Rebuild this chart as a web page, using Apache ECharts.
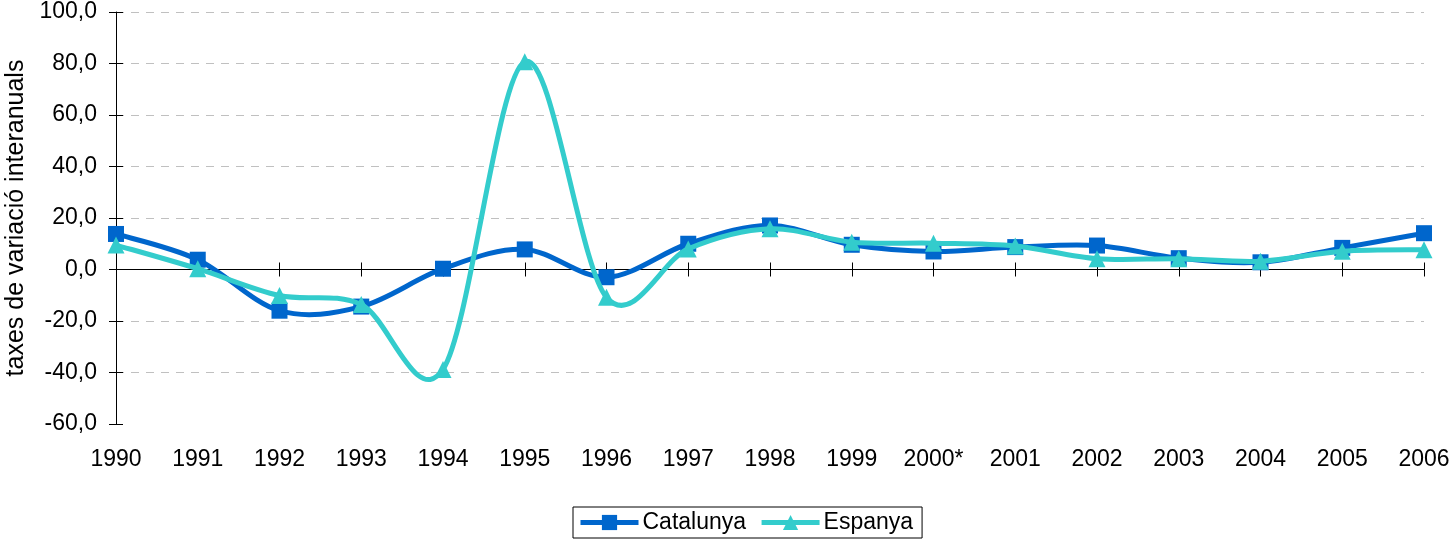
<!DOCTYPE html>
<html>
<head>
<meta charset="utf-8">
<script src="https://cdn.jsdelivr.net/npm/echarts@6/dist/echarts.min.js"></script>
<style>
html,body{margin:0;padding:0;background:#fff;}
#chart{width:1451px;height:545px;}
</style>
</head>
<body>
<div id="chart"></div>
<script>
const categories = ['1990','1991','1992','1993','1994','1995','1996','1997','1998','1999','2000*','2001','2002','2003','2004','2005','2006'];
const catalunya = [13.8, 3.8, -16.0, -14.4, 0.3, 7.8, -3.0, 10.0, 17.1, 9.6, 7.0, 8.7, 9.3, 4.4, 2.8, 8.4, 14.1];
const espanya = [9.5, 0.3, -10.1, -13.6, -38.8, 80.7, -10.8, 8.0, 15.8, 10.6, 10.2, 9.1, 4.2, 4.2, 3.2, 7.1, 7.7];
const yTicks = {min: -60, max: 100, interval: 20};
const yAxisName = 'taxes de variació interanuals';

const FONT = 'Liberation Sans, Arial, sans-serif';
const C_CAT = '#0066CC';
const C_ESP = '#33CCCC';
const chart = echarts.init(document.getElementById('chart'));
const gridColors = ['transparent','#c0c0c0','#c0c0c0','transparent','#c0c0c0','#c0c0c0','#c0c0c0','#c0c0c0','#c0c0c0'];

// Smooth curve (Catmull-Rom style, like spreadsheet smoothing) drawn through the axis scales
function curveRenderer(values, color) {
  return function (params, api) {
    const i = params.dataIndex;
    const n = values.length;
    if (i >= n - 1) return null;
    const pt = k => api.coord([Math.max(0, Math.min(n - 1, k)), values[Math.max(0, Math.min(n - 1, k))]]);
    const p0 = pt(i - 1), p1 = pt(i), p2 = pt(i + 1), p3 = pt(i + 2);
    const t = 1 / 6;
    return {
      type: 'bezierCurve',
      shape: {
        x1: p1[0], y1: p1[1], x2: p2[0], y2: p2[1],
        cpx1: p1[0] + (p2[0] - p0[0]) * t, cpy1: p1[1] + (p2[1] - p0[1]) * t,
        cpx2: p2[0] - (p3[0] - p1[0]) * t, cpy2: p2[1] - (p3[1] - p1[1]) * t
      },
      style: {stroke: color, lineWidth: 5, fill: null, lineCap: 'round', lineJoin: 'round'}
    };
  };
}

chart.setOption({
  animation: false,
  backgroundColor: '#fff',
  grid: {left: 116, right: 27, top: 12, bottom: 121, containLabel: false, outerBoundsMode: 'none'},
  legend: {
    data: [
      {name: 'Catalunya', lineStyle: {color: C_CAT, width: 5, opacity: 1}},
      {name: 'Espanya', lineStyle: {color: C_ESP, width: 5, opacity: 1}}
    ],
    top: 507,
    left: 573,
    itemWidth: 58,
    itemHeight: 19,
    itemGap: 13,
    padding: [4, 9, 4, 5],
    borderColor: '#000',
    borderWidth: 1,
    borderRadius: 0,
    textStyle: {fontFamily: FONT, fontSize: 23, color: '#000', padding: [0, 0, 0, -1]}
  },
  xAxis: [
    {
      type: 'category', data: categories, boundaryGap: false,
      position: 'bottom',
      axisLine: {show: false, onZero: false},
      axisTick: {show: false},
      axisLabel: {fontFamily: FONT, fontSize: 23, color: '#000', margin: 24, interval: 0},
      splitLine: {show: false}
    },
    {
      type: 'category', data: categories, boundaryGap: false,
      position: 'bottom',
      axisLine: {show: true, onZero: true, lineStyle: {color: '#000', width: 1}},
      axisTick: {show: true, inside: false, length: 7, interval: 0, lineStyle: {color: '#000'}},
      axisLabel: {show: false},
      splitLine: {show: false}
    },
    {
      type: 'category', data: categories, boundaryGap: false,
      position: 'bottom',
      axisLine: {show: false, onZero: true},
      axisTick: {show: true, inside: true, length: 7, interval: 0, lineStyle: {color: '#000'}},
      axisLabel: {show: false},
      splitLine: {show: false}
    }
  ],
  yAxis: [
    {
      type: 'value', min: yTicks.min, max: yTicks.max, interval: yTicks.interval,
      name: yAxisName, nameLocation: 'middle', nameGap: 86, nameRotate: 90,
      nameTextStyle: {fontFamily: FONT, fontSize: 25, color: '#000'},
      axisLine: {show: true, lineStyle: {color: '#000', width: 1}},
      axisTick: {show: true, inside: false, length: 7, lineStyle: {color: '#000'}},
      axisLabel: {fontFamily: FONT, fontSize: 23, color: '#000', margin: 19,
        formatter: v => v.toFixed(1).replace('.', ',')},
      splitLine: {show: true, lineStyle: {color: gridColors, type: [8, 7], width: 1}}
    },
    {
      type: 'value', min: yTicks.min, max: yTicks.max, interval: yTicks.interval,
      position: 'left',
      axisLine: {show: false},
      axisTick: {show: true, inside: true, length: 7, lineStyle: {color: '#000'}},
      axisLabel: {show: false},
      splitLine: {show: false}
    }
  ],
  series: [
    {
      type: 'custom', name: 'curveCat', data: catalunya.map((v, i) => [i, v]),
      renderItem: curveRenderer(catalunya, C_CAT), z: 2, silent: true,
      encode: {x: 0, y: 1}
    },
    {
      type: 'custom', name: 'curveEsp', data: espanya.map((v, i) => [i, v]),
      renderItem: curveRenderer(espanya, C_ESP), z: 4, silent: true,
      encode: {x: 0, y: 1}
    },
    {
      name: 'Catalunya', type: 'line', data: catalunya, smooth: false,
      symbol: 'rect', symbolSize: 16,
      lineStyle: {color: C_CAT, width: 0, opacity: 0},
      itemStyle: {color: C_CAT},
      z: 3
    },
    {
      name: 'Espanya', type: 'line', data: espanya, smooth: false,
      symbol: 'triangle', symbolSize: 17,
      lineStyle: {color: C_ESP, width: 0, opacity: 0},
      itemStyle: {color: C_ESP},
      z: 5
    }
  ]
});
</script>
</body>
</html>
